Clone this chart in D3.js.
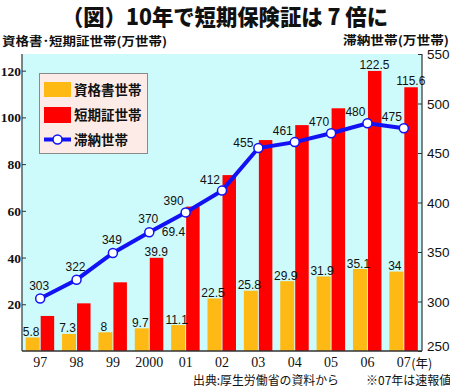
<!DOCTYPE html>
<html><head><meta charset="utf-8">
<script src="https://cdn.jsdelivr.net/npm/d3@7"></script>
<style>body{margin:0;background:#fff}svg{display:block}</style>
</head><body>
<script>
const years = ["97","98","99","2000","01","02","03","04","05","06","07"];
const shikakushoValues = [5.8,7.3,8,9.7,11.1,22.5,25.8,29.9,31.9,35.1,34];
const shikakushoLabels = ["5.8","7.3","8","9.7","11.1","22.5","25.8","29.9","31.9","35.1","34"];
const tankiValues = [15.0,20.4,29.4,39.9,61.8,75.3,90.3,96.7,103.9,119.9,112.9];
const tankiLabels = [null,null,null,"39.9","69.4",null,null,null,null,"122.5","115.6"];
const tainoValues = [303,322,349,370,390,412,455,461,470,480,475];
const leftTicks = [20,40,60,80,100,120];
const rightTicks = [250,300,350,400,450,500,550];
const seriesNames = ["資格書世帯","短期証世帯","滞納世帯"];

const W = 450, H = 387;
const L = 22, R = 422, T = 54, B = 351;
const YEL = "#ffb914", RED = "#ff0000", BLUE = "#1212f5", BG = "#cdfbfb";
const JP = "'Noto Sans CJK JP', sans-serif";

const svg = d3.select("body").append("svg").attr("width", W).attr("height", H);

const x = d3.scaleBand().domain(years).range([L, R]).padding(0);
const yL = d3.scaleLinear().domain([0, (B - T) / 2.336]).range([B, T]);
const yR = d3.scaleLinear().domain([250, 550]).range([B, T]);
const cx = d => x(d) + x.bandwidth() / 2;

// title
svg.append("text").attr("x", 62).attr("y", 25).attr("textLength", 326).attr("lengthAdjust", "spacingAndGlyphs")
  .style("font-family", JP).style("font-weight", 900).style("font-size", "22px").attr("fill", "#111")
  .text("（図）10年で短期保険証は 7 倍に");
svg.append("text").attr("x", 2).attr("y", 46).attr("textLength", 165).attr("lengthAdjust", "spacingAndGlyphs")
  .style("font-family", JP).style("font-weight", 700).style("font-size", "12px").attr("fill", "#111")
  .text("資格書･短期証世帯(万世帯)");
svg.append("text").attr("x", 343).attr("y", 45).attr("textLength", 106).attr("lengthAdjust", "spacingAndGlyphs")
  .style("font-family", JP).style("font-weight", 700).style("font-size", "12px").attr("fill", "#111")
  .text("滞納世帯(万世帯)");

// plot background
svg.append("rect").attr("x", L).attr("y", T).attr("width", R - L).attr("height", B - T).attr("fill", BG);

// bars
const bw = 14;
const g = svg.append("g");
g.selectAll("rect.y").data(years).join("rect")
  .attr("x", d => cx(d) - bw - 0.5).attr("width", bw)
  .attr("y", (d, i) => yL(shikakushoValues[i])).attr("height", (d, i) => B - yL(shikakushoValues[i]))
  .attr("fill", YEL);
g.selectAll("rect.r").data(years).join("rect")
  .attr("x", d => cx(d) + 0.5).attr("width", bw - 0.5)
  .attr("y", (d, i) => yL(tankiValues[i])).attr("height", (d, i) => B - yL(tankiValues[i]))
  .attr("fill", RED);

// axes
const axL = svg.append("g").attr("transform", `translate(${L},0)`)
  .call(d3.axisRight(yL).tickValues(leftTicks).tickSize(4).tickFormat(""));
axL.select(".domain").remove();
axL.selectAll("line").attr("stroke", "#333");
svg.append("g").selectAll("text").data(leftTicks).join("text")
  .attr("x", L - 1).attr("y", d => yL(d) + 5).attr("text-anchor", "end")
  .style("font-family", "'Liberation Serif', serif").style("font-weight", 700).style("font-size", "13.5px").attr("fill", "#111")
  .text(d => d);

const axR = svg.append("g").attr("transform", `translate(${R},0)`)
  .call(d3.axisLeft(yR).tickValues(rightTicks).tickSize(4).tickFormat(""));
axR.select(".domain").remove();
axR.selectAll("line").attr("stroke", "#333");
svg.append("g").selectAll("text").data(rightTicks).join("text")
  .attr("x", R + 5).attr("y", d => Math.min(yR(d) + 5, B))
  .attr("text-anchor", "start")
  .style("font-family", "'Liberation Sans', Arial, sans-serif").style("font-size", "13.5px").attr("fill", "#111")
  .text(d => d);

svg.append("line").attr("x1", L).attr("x2", L).attr("y1", T).attr("y2", B).attr("stroke", "#333").attr("stroke-width", 1.2);
svg.append("line").attr("x1", R).attr("x2", R).attr("y1", T).attr("y2", B).attr("stroke", "#333").attr("stroke-width", 1.2);
svg.append("line").attr("x1", L).attr("x2", R).attr("y1", B).attr("y2", B).attr("stroke", "#333").attr("stroke-width", 1.5);

const axB = svg.append("g").attr("transform", `translate(0,${B})`)
  .call(d3.axisBottom(x).tickSize(0).tickPadding(0).tickFormat(""));
axB.select(".domain").remove();
svg.append("g").selectAll("text").data(years).join("text")
  .attr("x", d => cx(d)).attr("y", 367).attr("text-anchor", "middle")
  .style("font-family", "'Liberation Serif', serif").style("font-size", "14px").attr("fill", "#111")
  .text(d => d);
svg.append("text").attr("x", cx("07") + 7.5).attr("y", 367.5)
  .style("font-family", JP).style("font-size", "12.5px").attr("fill", "#111").text("(年)");

// bar labels
const lblStyle = s => s.style("font-family", "'Liberation Sans', Arial, sans-serif").style("font-size", "12px").attr("fill", "#111").attr("text-anchor", "middle");
svg.append("g").selectAll("text").data(years).join("text")
  .attr("x", d => cx(d) - bw / 2 - 2).attr("y", (d, i) => yL(shikakushoValues[i]) - 1.5)
  .call(lblStyle).text((d, i) => shikakushoLabels[i]);
svg.append("g").selectAll("text").data(years.filter((d, i) => tankiLabels[i])).join("text")
  .call(lblStyle)
  .each(function(d) {
    const i = years.indexOf(d);
    const t = d3.select(this);
    if (d === "01") {
      t.attr("x", cx(d) - 0.5).attr("y", yL(tankiValues[i]) + 29).attr("text-anchor", "end");
    } else {
      t.attr("x", cx(d) + bw / 2).attr("y", yL(tankiValues[i]) - 2);
    }
    t.text(tankiLabels[i]);
  });

// line
const line = d3.line().x(d => cx(d)).y((d, i) => yR(tainoValues[i]));
svg.append("path").datum(years).attr("d", line).attr("fill", "none").attr("stroke", BLUE).attr("stroke-width", 4);
svg.append("g").selectAll("circle").data(years).join("circle")
  .attr("cx", d => cx(d)).attr("cy", (d, i) => yR(tainoValues[i])).attr("r", 4.5)
  .attr("fill", "#fff").attr("stroke", BLUE).attr("stroke-width", 1.5);
svg.append("g").selectAll("text").data(years).join("text")
  .attr("x", (d, i) => cx(d) + (i < 4 ? -1 : (i === 6 ? -15 : -12)))
  .attr("y", (d, i) => yR(tainoValues[i]) + (i === 6 ? -1 : (i < 4 ? -9 : -7)))
  .call(lblStyle).text((d, i) => tainoValues[i]);

// legend
const lg = svg.append("g");
lg.append("rect").attr("x", 39.5).attr("y", 73.5).attr("width", 108).attr("height", 80)
  .attr("fill", "#fcebe6").attr("stroke", "#8a8a8a").attr("stroke-width", 1);
lg.append("rect").attr("x", 44).attr("y", 82).attr("width", 27).attr("height", 15).attr("fill", YEL);
lg.append("rect").attr("x", 44).attr("y", 107).attr("width", 27).attr("height", 16).attr("fill", RED);
lg.append("line").attr("x1", 44).attr("x2", 71).attr("y1", 139.5).attr("y2", 139.5).attr("stroke", BLUE).attr("stroke-width", 4);
lg.append("circle").attr("cx", 57.5).attr("cy", 139.5).attr("r", 4.5).attr("fill", "#fff").attr("stroke", BLUE).attr("stroke-width", 1.5);
lg.selectAll("text.l").data(seriesNames).join("text")
  .attr("x", 74).attr("y", (d, i) => [95, 120, 145][i])
  .style("font-family", JP).style("font-weight", 700).style("font-size", "13.5px").attr("fill", "#111")
  .text(d => d);

// footer
svg.append("text").attr("x", 193).attr("y", 385).attr("textLength", 146).attr("lengthAdjust", "spacingAndGlyphs")
  .style("font-family", JP).style("font-size", "12px").attr("fill", "#111").text("出典:厚生労働省の資料から");
svg.append("text").attr("x", 366).attr("y", 385)
  .style("font-family", JP).style("font-size", "12px").attr("fill", "#111").text("※07年は速報値");
</script>
</body></html>
